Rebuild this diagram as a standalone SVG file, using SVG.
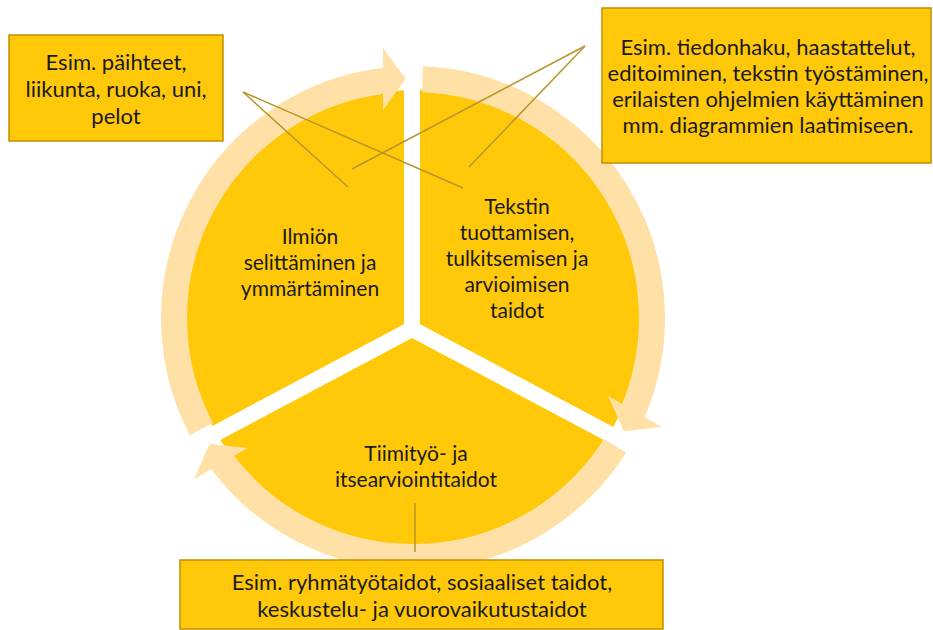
<svg xmlns="http://www.w3.org/2000/svg" width="933" height="630" viewBox="0 0 933 630">
<style>
.wedge{fill:#FFC90A}
.ring{fill:none;stroke:#FFE0A6;stroke-width:26}
.head{fill:#FFE0A6}
.box{fill:#FFC90A;stroke:#BF9000;stroke-width:1.5}
.lbl{font-family:Lato,"Liberation Sans",sans-serif;font-size:22px;fill:#1A1A1A;text-anchor:middle}
.wl{font-size:21px}
.lead{stroke:#B8952A;stroke-width:1.5;fill:none}
</style>
<rect width="933" height="630" fill="#fff"/>
<g id="wedge-left">
<path class="wedge" d="M404,324.2 L404,90.2 A228,228 0 0 0 212.3,426 Z"/>
<text class="lbl wl" x="310" y="244">Ilmiön</text>
<text class="lbl wl" x="310" y="270">selittäminen ja</text>
<text class="lbl wl" x="310" y="296">ymmärtäminen</text>
</g>
<g id="wedge-right">
<path class="wedge" d="M420,324.2 L420,90.1 A228,228 0 0 1 613.3,426.9 Z"/>
<text class="lbl wl" x="517" y="214">Tekstin</text>
<text class="lbl wl" x="517" y="240">tuottamisen,</text>
<text class="lbl wl" x="517" y="266">tulkitsemisen ja</text>
<text class="lbl wl" x="517" y="292">arvioimisen</text>
<text class="lbl wl" x="517" y="318">taidot</text>
</g>
<g id="wedge-bottom">
<path class="wedge" d="M412,338.05 L605.2,440.7 A228,228 0 0 1 220.3,439.9 Z"/>
<text class="lbl wl" x="416" y="461">Tiimityö- ja</text>
<text class="lbl wl" x="416" y="487">itsearviointitaidot</text>
</g>
<g id="cycle-arrows">
<g id="arrow-1">
<path class="ring" d="M201.4,429.1 A239,239 0 0 1 384.7,80.7"/>
<polygon class="head" points="383,48 405.7,78.8 383,110"/>
</g>
<g id="arrow-2" transform="rotate(120 413 318)">
<path class="ring" d="M201.4,429.1 A239,239 0 0 1 384.7,80.7"/>
<polygon class="head" points="383,48 405.7,78.8 383,110"/>
</g>
<g id="arrow-3" transform="rotate(240 413 318)">
<path class="ring" d="M201.4,429.1 A239,239 0 0 1 384.7,80.7"/>
<polygon class="head" points="383,48 405.7,78.8 383,110"/>
</g>
</g>
<g id="box-1">
<rect class="box" x="9" y="35" width="214" height="106"/>
<text class="lbl" x="116" y="70">Esim. päihteet,</text>
<text class="lbl" x="116" y="97">liikunta, ruoka, uni,</text>
<text class="lbl" x="116" y="124">pelot</text>
</g>
<g id="box-2">
<rect class="box" x="602" y="8" width="329" height="155"/>
<text class="lbl" x="768" y="55">Esim. tiedonhaku, haastattelut,</text>
<text class="lbl" x="768" y="81">editoiminen, tekstin työstäminen,</text>
<text class="lbl" x="768" y="107">erilaisten ohjelmien käyttäminen</text>
<text class="lbl" x="768" y="133">mm. diagrammien laatimiseen.</text>
</g>
<g id="box-3">
<rect class="box" x="180" y="560" width="483" height="69"/>
<text class="lbl" x="422" y="590">Esim. ryhmätyötaidot, sosiaaliset taidot,</text>
<text class="lbl" x="422" y="617">keskustelu- ja vuorovaikutustaidot</text>
</g>
<g id="connectors">
<line class="lead" x1="243" y1="92" x2="348" y2="187"/>
<line class="lead" x1="243" y1="92" x2="463" y2="188"/>
<line class="lead" x1="585" y1="46" x2="352" y2="169"/>
<line class="lead" x1="585" y1="46" x2="469" y2="167"/>
<line class="lead" x1="415" y1="503" x2="415" y2="552"/>
</g>
</svg>
